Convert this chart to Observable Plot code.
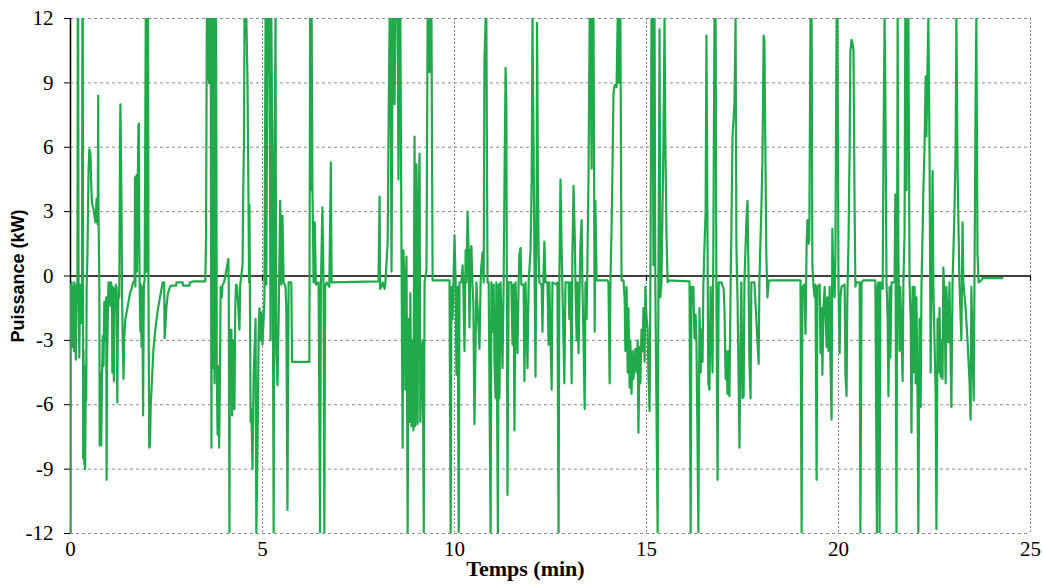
<!DOCTYPE html>
<html><head><meta charset="utf-8">
<script src="https://cdn.jsdelivr.net/npm/d3@7"></script>
<script src="https://cdn.jsdelivr.net/npm/@observablehq/plot@0.6"></script>
<style>
html,body{margin:0;padding:0;background:#fff;}
#chart{width:1042px;height:584px;}
</style></head><body><div id="chart"></div>
<script>
// Temps (min), Puissance (kW), 5-minute windows
const seg0to5 = [[0.00,-12],[0.005,-0.4],[0.02,-2.6],[0.03,-0.3],[0.05,-3.3],[0.07,-0.5],[0.09,-3.5],[0.10,-0.3],[0.12,-2.9],[0.14,-3.9],[0.16,-0.4],[0.18,-1.2],
[0.19,12],[0.20,12],[0.21,-0.6],[0.23,-3.8],[0.25,-0.4],[0.28,-2.2],[0.30,-0.3],
[0.31,12],[0.32,12],[0.33,-8.5],[0.34,-3.5],[0.36,-8.8],[0.37,-4.2],[0.38,-9.0],[0.40,-4.6],[0.41,-5.8],[0.42,-0.6],[0.44,0.9],
[0.47,4.9],[0.49,5.9],[0.52,5.7],[0.54,4.2],[0.56,3.4],[0.60,3.1],[0.65,2.5],[0.68,3.6],[0.71,2.4],[0.72,8.4],[0.73,2.8],[0.75,-0.2],
[0.76,-7.9],[0.78,-4.5],[0.80,-7.9],[0.82,-4.7],[0.84,-2.8],[0.86,-4.2],[0.88,-1.2],[0.90,-3.0],[0.93,-1.0],[0.94,-9.5],[0.95,-4.5],[0.97,-2.0],[0.99,-0.3],
[1.01,-1.0],[1.02,-0.3],[1.04,-1.4],[1.06,-0.3],[1.08,-1.2],[1.09,-4.5],[1.10,-0.5],[1.12,-1.5],[1.13,-4.9],[1.14,-0.6],[1.16,-1.3],[1.18,-0.4],[1.20,-1.8],[1.22,-5.9],[1.23,-3.0],[1.25,-0.5],[1.27,-1.0],
[1.29,6.3],[1.30,8.0],[1.31,6.3],[1.33,3.0],[1.34,-0.5],[1.36,-3.0],[1.38,-4.8],[1.40,-2.8],[1.43,-2.0],[1.47,-1.6],[1.51,-1.2],[1.55,-0.8],[1.59,-0.6],[1.63,-0.3],[1.67,-0.2],
[1.68,4.6],[1.69,-0.5],[1.71,4.3],[1.72,4.7],[1.73,0.2],[1.75,4.0],[1.77,7.0],[1.78,7.1],[1.79,2.0],[1.80,-0.3],[1.82,-2.6],[1.83,-0.4],[1.85,-3.3],[1.87,-0.5],[1.89,-6.5],[1.91,-0.4],[1.93,-0.2],
[1.96,12],[1.97,12],[1.98,0.2],[2.00,12],[2.02,12],[2.03,-0.5],[2.05,-8.0],[2.07,-7.9],[2.09,-6.0],[2.12,-4.9],[2.16,-3.4],[2.21,-2.5],[2.27,-1.6],[2.33,-1.0],[2.38,-0.5],[2.40,-0.3],
[2.44,-0.3],[2.45,-2.9],[2.47,-2.4],[2.50,-1.4],[2.53,-0.9],[2.57,-0.6],[2.61,-0.45],[2.75,-0.45],[2.76,-0.3],[2.92,-0.3],[2.93,-0.45],[3.10,-0.45],[3.11,-0.3],[3.20,-0.25],[3.51,-0.25],
[3.53,1.8],[3.55,12],[3.57,9.2],[3.59,12],[3.61,9.0],[3.63,12],[3.65,12],[3.67,-8.0],[3.69,12],[3.71,-4.3],[3.73,12],[3.75,-5.0],[3.77,12],[3.79,12],[3.80,5.5],[3.81,-4.6],[3.83,-7.4],[3.85,-4.2],[3.87,-8.0],[3.89,-5.0],[3.91,-0.5],[3.94,-1.0],[3.96,-0.4],[4.00,-0.3],
[4.11,0.8],[4.12,-0.3],[4.14,-12],[4.15,-2.5],[4.17,-5.0],[4.19,-2.5],[4.21,-6.5],[4.23,-3.0],[4.25,-5.6],[4.27,-6.2],[4.29,-1.5],[4.31,-0.4],[4.34,-0.5],[4.40,-2.5],[4.42,-0.4],[4.48,0.5],
[4.50,4.2],[4.52,6.5],[4.53,12],[4.56,11.2],[4.58,12],[4.61,9.0],[4.63,4.7],[4.65,-0.3],[4.66,3.3],[4.69,-6.8],[4.71,-6.2],[4.74,-9.0],[4.77,-4.6],[4.79,-3.6],[4.82,-2.0],[4.84,-12],[4.87,-8.0],[4.90,-2.6],[4.92,-1.5],[4.95,-3.0],[4.97,-1.7]];

const seg5to10 = [[5.00,-3.2],[5.03,-2.0],[5.05,-1.0],[5.08,12],[5.10,-0.4],[5.13,12],[5.16,9.5],[5.18,12],[5.21,-3.0],[5.23,12],[5.26,5.2],[5.29,-12],[5.31,4.4],[5.34,12],[5.35,2.0],[5.36,-3.5],[5.39,-5.1],[5.42,-2.0],[5.46,3.5],[5.47,2.0],[5.49,-0.4],[5.52,2.8],[5.55,-0.3],[5.60,-0.5],[5.62,-1.5],[5.65,-10.9],[5.68,-0.3],[5.75,-0.3],[5.77,-4.0],[6.22,-4.0],[6.24,12],[6.26,4.0],[6.28,12],[6.30,4.3],[6.33,-0.3],[6.36,2.5],[6.39,-0.4],[6.46,-0.3],[6.50,-12],[6.52,-0.5],[6.56,3.2],[6.59,-0.5],[6.61,-12],[6.63,-0.5],[6.67,-0.3],[6.74,-0.5],[6.78,5.3],[6.80,-0.3],[8.02,-0.25],
[8.05,3.7],[8.06,-0.6],[8.10,-0.5],[8.13,-0.3],[8.18,-0.6],[8.20,-0.3],[8.26,1.6],[8.28,6.3],[8.31,12],[8.33,12],[8.36,0.2],[8.39,12],[8.41,12],[8.44,8.0],[8.46,12],[8.49,12],[8.52,12],[8.54,4.5],[8.57,12],[8.59,12],[8.62,1.1],[8.65,-8.0],[8.67,1.2],[8.70,-0.3],[8.72,-5.3],[8.75,0.9],[8.78,-12],[8.80,-2.0],[8.83,-6.8],[8.85,-0.8],[8.88,-7.0],[8.91,-3.0],[8.93,-7.2],[8.96,6.5],[8.98,-7.0],[9.01,5.2],[9.04,-6.9],[9.06,3.0],[9.09,5.7],[9.11,-6.8],[9.14,-4.0],[9.17,-3.0],[9.20,-12],[9.22,-0.3],[9.27,0.3],[9.30,12],[9.32,12],[9.35,9.5],[9.38,12],[9.40,12],[9.43,-0.2],[9.87,-0.2],[9.90,-12],[9.92,-0.5],[9.95,-2.0],[9.99,1.0]];

const seg10to15 = [[10.00,1.9],[10.03,-0.3],[10.05,-4.6],[10.08,-0.5],[10.11,-12],[10.13,-0.3],[10.18,-0.3],[10.21,0.5],[10.23,-0.5],[10.26,-3.5],[10.29,1.2],[10.31,-0.3],[10.34,3.0],[10.36,1.8],[10.39,-2.4],[10.42,1.2],[10.44,1.4],[10.47,-0.5],[10.49,-1.2],[10.52,-6.9],[10.55,-3.0],[10.57,-0.3],[10.65,-3.4],[10.68,-0.3],[10.70,0.5],[10.73,1.1],[10.76,-0.3],[10.78,10.0],[10.81,12],[10.83,12],[10.86,-0.3],[10.89,-0.3],[10.94,-12],[10.96,-0.3],[10.99,-2.6],[11.02,-0.4],[11.04,-4.0],[11.07,-5.7],[11.09,-0.3],[11.13,-12],[11.15,-0.4],[11.17,-5.7],[11.20,-0.3],[11.25,-4.3],[11.28,-0.3],[11.30,4.0],[11.33,9.7],[11.35,8.0],[11.38,-10.2],[11.41,-0.3],[11.48,-0.3],[11.51,-3.2],[11.54,-0.4],[11.56,-7.2],[11.59,-0.3],[11.64,-3.6],[11.67,-0.3],[11.69,1.0],[11.72,1.3],[11.74,-0.4],[11.80,-0.4],[11.82,-4.9],[11.85,-0.3],[11.90,-4.3],[11.93,-0.3],[11.98,1.2],[12.01,4.5],[12.03,12],[12.06,6.0],[12.08,1.0],[12.11,-4.7],[12.14,4.5],[12.15,11.8],[12.17,5.0],[12.19,1.2],[12.21,-0.3],[12.27,-0.4],[12.29,-2.6],[12.32,0.3],[12.34,1.6],[12.37,-0.3],[12.42,-0.3],[12.45,-3.2],[12.47,-0.3],[12.53,-5.3],[12.55,-0.3],[12.66,-0.4],[12.68,-0.3],[12.71,-12],[12.73,-0.3],[12.76,4.5],[12.79,1.2],[12.81,-0.5],[12.86,-5.0],[12.89,-0.3],[12.97,-0.3],[12.99,-2.0],[13.02,-0.3],[13.05,-5.0],[13.07,1.0],[13.10,4.2],[13.13,2.0],[13.15,-0.3],[13.18,-3.0],[13.20,-0.3],[13.23,-3.6],[13.26,-0.4],[13.28,1.5],[13.31,2.6],[13.33,-0.3],[13.36,-3.0],[13.39,-6.2],[13.41,-0.3],[13.44,-2.0],[13.46,0.5],[13.49,4.7],[13.52,12],[13.54,12],[13.57,5.0],[13.59,12],[13.62,12],[13.65,-2.6],[13.67,3.5],[13.70,-0.2],[13.98,-0.2],[14.01,-0.3],[14.04,-5.0],[14.06,-0.3],[14.09,2.2],[14.11,4.5],[14.14,8.5],[14.17,8.9],[14.22,8.8],[14.25,12],[14.27,9.0],[14.30,12],[14.32,12],[14.35,-0.2],[14.40,-0.2],[14.43,-1.0],[14.45,-3.5],[14.48,-0.5],[14.51,-4.5],[14.53,-1.5],[14.56,-5.2],[14.58,-3.0],[14.61,-5.5],[14.64,-3.5],[14.66,-4.8],[14.69,-4.0],[14.71,-3.4],[14.74,-4.5],[14.77,-3.0],[14.79,-7.3],[14.82,-3.3],[14.84,-5.0],[14.87,-2.5],[14.90,-3.5],[14.92,-1.5],[14.95,-4.0],[14.97,-0.5]];

const seg15to20 = [[15.00,-1.9],[15.03,-2.5],[15.05,-4.5],[15.08,-6.3],[15.10,-1.0],[15.13,12],[15.16,12],[15.18,0.5],[15.21,12],[15.23,-0.5],[15.26,-6.2],[15.29,-12],[15.31,-0.5],[15.34,11.5],[15.36,-1.0],[15.39,-0.3],[15.42,3.5],[15.44,6.0],[15.47,12],[15.49,6.4],[15.52,2.0],[15.55,-0.3],[15.57,-0.2],[16.12,-0.25],[16.15,-12],[16.17,-0.5],[16.20,-1.3],[16.22,-0.5],[16.25,-2.9],[16.28,-1.8],[16.30,-3.0],[16.33,-7.8],[16.35,-12],[16.38,-1.5],[16.41,-4.5],[16.43,-2.5],[16.46,-4.0],[16.48,-0.5],[16.51,1.4],[16.54,3.0],[16.56,11.2],[16.59,1.4],[16.61,-5.0],[16.64,-5.3],[16.67,-0.5],[16.69,-2.2],[16.72,-4.5],[16.74,1.0],[16.77,12],[16.80,12],[16.82,-0.5],[16.85,-9.5],[16.88,-0.3],[16.95,-0.3],[17.01,-0.6],[17.03,-1.5],[17.06,-4.8],[17.08,-3.5],[17.11,-5.5],[17.14,-3.5],[17.16,-5.6],[17.19,-0.5],[17.21,2.0],[17.24,6.5],[17.27,7.4],[17.29,8.0],[17.32,12],[17.34,1.5],[17.37,-1.0],[17.40,-5.0],[17.42,-8.0],[17.45,-3.0],[17.47,-0.3],[17.50,-5.7],[17.53,-5.6],[17.55,-0.3],[17.60,2.5],[17.63,3.5],[17.66,-0.3],[17.68,-4.0],[17.71,-5.7],[17.73,-0.3],[17.81,-0.3],[17.92,-4.1],[17.94,-0.3],[17.97,1.8],[17.99,3.0],[18.02,5.5],[18.05,11.2],[18.07,11.0],[18.10,5.0],[18.12,1.0],[18.15,-1.0],[18.18,-0.3],[18.20,-0.2],[19.01,-0.2],[19.04,-12],[19.06,-0.5],[19.11,-0.4],[19.14,-2.7],[19.17,1.5],[19.19,2.6],[19.22,1.5],[19.24,1.7],[19.27,12],[19.30,12],[19.32,0.5],[19.35,-0.5],[19.38,-1.0],[19.40,-0.4],[19.43,-9.5],[19.45,-0.5],[19.51,-0.4],[19.53,-3.6],[19.56,-1.5],[19.58,-4.6],[19.61,-1.4],[19.64,-0.5],[19.69,-3.3],[19.71,-1.0],[19.74,-3.5],[19.77,-0.5],[19.79,-4.0],[19.82,-6.7],[19.84,2.2],[19.87,-0.5],[19.90,-1.0],[19.92,1.0],[19.95,12],[19.97,12]];

const seg20to25 = [[20.00,-0.5],[20.03,-3.6],[20.05,-1.0],[20.08,-0.5],[20.16,-0.4],[20.18,-4.5],[20.21,-5.6],[20.23,-1.0],[20.26,1.5],[20.29,6.0],[20.31,10.5],[20.34,11.0],[20.36,10.9],[20.39,10.5],[20.42,3.0],[20.44,-0.5],[20.47,-0.3],[20.55,-0.3],[20.57,-12],[20.60,-0.3],[20.65,-0.2],[20.96,-0.2],[21.00,-12],[21.02,-0.5],[21.04,-0.3],[21.07,-12],[21.09,-0.3],[21.15,-0.6],[21.17,5.5],[21.20,12],[21.22,8.5],[21.25,-0.3],[21.28,-2.0],[21.30,-5.6],[21.33,-0.5],[21.35,-3.8],[21.38,-0.3],[21.46,-0.3],[21.48,3.8],[21.51,-12],[21.54,12],[21.56,1.0],[21.59,-3.5],[21.61,-0.5],[21.67,-4.9],[21.69,-0.3],[21.72,2.0],[21.74,12],[21.77,4.0],[21.80,12],[21.82,12],[21.85,-0.3],[21.88,-2.0],[21.90,-7.3],[21.93,-0.5],[21.95,-4.5],[21.98,-0.5],[22.01,-5.0],[22.03,-1.0],[22.06,-6.0],[22.08,-12],[22.11,-2.0],[22.14,-6.1],[22.16,-0.5],[22.19,2.0],[22.21,4.0],[22.24,6.0],[22.27,9.3],[22.29,6.5],[22.32,10.0],[22.34,12],[22.37,6.0],[22.40,-4.5],[22.42,-0.5],[22.45,4.9],[22.47,-0.5],[22.50,-3.0],[22.53,-5.5],[22.55,-11.8],[22.58,-2.0],[22.60,-4.5],[22.63,-1.5],[22.66,-4.7],[22.68,-3.0],[22.71,-4.8],[22.73,0.4],[22.76,-1.0],[22.79,-5.0],[22.81,-0.5],[22.86,-3.1],[22.89,-0.3],[22.94,-6.1],[22.97,-0.3],[22.99,1.0],[23.02,3.0],[23.05,6.0],[23.07,12],[23.10,5.0],[23.12,2.8],[23.15,-0.3],[23.20,-3.0],[23.23,2.5],[23.25,-0.3],[23.31,-1.5],[23.36,-3.0],[23.41,-4.8],[23.44,-6.7],[23.46,-0.5],[23.52,-5.8],[23.54,-0.5],[23.57,8.2],[23.59,12],[23.62,1.0],[23.65,-0.3],[23.72,-0.2],[23.75,-0.1],[24.27,-0.1]];

const xTicks = [0, 5, 10, 15, 20, 25];
const yTicks = [-12, -9, -6, -3, 0, 3, 6, 9, 12];
const xTitle = "Temps (min)";
const yTitle = "Puissance (kW)";

const mesures = [...seg0to5, ...seg5to10, ...seg10to15, ...seg15to20, ...seg20to25]
  .map(([t, p]) => ({t, p}));

const chart = Plot.plot({
  width: 1042,
  height: 584,
  marginLeft: 70,
  marginRight: 12,
  marginTop: 18,
  marginBottom: 51,
  style: {fontFamily: "'Liberation Serif','Times New Roman',serif", fontSize: "21px", color: "#000", background: "#fff", overflow: "visible"},
  x: {domain: [0, 25]},
  y: {domain: [-12, 12]},
  marks: [
    Plot.gridY(yTicks.filter(v => v !== 0), {stroke: "#8a8a8a", strokeOpacity: 1, strokeDasharray: "3,3", strokeWidth: 1}),
    Plot.gridX(xTicks.filter(v => v !== 0), {stroke: "#8a8a8a", strokeOpacity: 1, strokeDasharray: "2,2", strokeWidth: 1}),
    Plot.axisY(yTicks, {tickSize: 6, tickPadding: 11, label: null, fontSize: 21, tickFormat: d => String(d)}),
    Plot.axisX(xTicks, {tickSize: 0, tickPadding: 8, label: null, fontSize: 21, tickFormat: d => String(d)}),
    Plot.ruleX([0], {y1: -12, y2: 12, stroke: "#000", strokeWidth: 1.5}),
    Plot.ruleY([0], {stroke: "#000", strokeWidth: 1.5}),
    Plot.ruleX(xTicks.slice(1), {y1: 0, y2: -0.25, stroke: "#000", strokeWidth: 1.2}),
    Plot.line(mesures, {x: "t", y: "p", stroke: "#20aa4c", strokeWidth: 2.2, clip: true}),
    Plot.text([xTitle], {frameAnchor: "bottom", dy: 42, dx: -25, fontWeight: "bold", fontSize: 22}),
    Plot.text([yTitle], {frameAnchor: "left", textAnchor: "middle", rotate: -90, dx: -52, fontWeight: "bold", fontSize: 18, fontFamily: "'Liberation Sans', Arial, sans-serif"})
  ]
});
document.getElementById("chart").appendChild(chart);
</script>
</body></html>
